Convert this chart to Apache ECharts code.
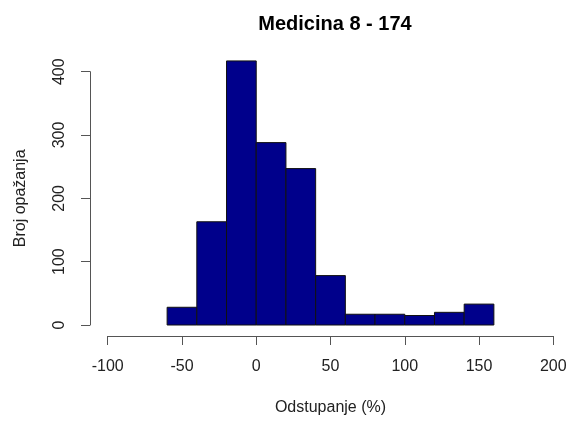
<!DOCTYPE html>
<html><head><meta charset="utf-8">
<script src="https://cdn.jsdelivr.net/npm/echarts@6/dist/echarts.min.js"></script>
<style>html,body{margin:0;padding:0;background:#fff}#c{width:576px;height:422px}</style>
</head><body><div id="c"></div>
<script>
const binStarts = [-60, -40, -20, 0, 20, 40, 60, 80, 100, 120, 140];
const binEnds   = [-40, -20, 0, 20, 40, 60, 80, 100, 120, 140, 160];
const counts    = [28, 163, 417, 288, 247, 78, 17, 17, 15, 20, 33];
const xTicks = [-100, -50, 0, 50, 100, 150, 200];
const yTicks = [0, 100, 200, 300, 400];

const data = binStarts.map((s, i) => [s, binEnds[i], counts[i]]);
const chart = echarts.init(document.getElementById('c'), null, {renderer: 'canvas'});
const font = '"Liberation Sans", Arial, sans-serif';
chart.setOption({
  animation: false,
  title: {text: 'Medicina 8 - 174', left: 330, top: 9, textAlign: 'center',
    textStyle: {fontFamily: font, fontWeight: 'bold', fontSize: 20, color: '#000'}},
  grid: {left: 107.7, right: 22.7, top: 71.7, bottom: 97, containLabel: false},
  xAxis: {type: 'value', min: xTicks[0], max: xTicks[xTicks.length - 1], interval: 50, offset: 11,
    name: 'Odstupanje (%)', nameLocation: 'middle', nameGap: 64,
    nameTextStyle: {fontFamily: font, fontSize: 16, color: '#222'},
    axisLine: {show: true, onZero: false, lineStyle: {color: '#555', width: 1}},
    axisTick: {show: true, length: 9, lineStyle: {color: '#555'}},
    axisLabel: {fontFamily: font, fontSize: 16, color: '#222', margin: 23},
    splitLine: {show: false}},
  yAxis: {type: 'value', min: yTicks[0], max: yTicks[yTicks.length - 1], interval: 100, offset: 17.7,
    name: 'Broj opažanja', nameLocation: 'middle', nameGap: 61, nameRotate: 90,
    nameTextStyle: {fontFamily: font, fontSize: 16, color: '#222'},
    axisLine: {show: true, onZero: false, lineStyle: {color: '#555', width: 1}},
    axisTick: {show: true, length: 9, lineStyle: {color: '#555'}},
    axisLabel: {fontFamily: font, fontSize: 16, color: '#222', margin: 22, rotate: 90},
    splitLine: {show: false}},
  series: [{
    type: 'custom',
    data: data,
    encode: {x: [0, 1], y: 2},
    renderItem: function (params, api) {
      const p0 = api.coord([api.value(0), api.value(2)]);
      const p1 = api.coord([api.value(1), 0]);
      return {type: 'rect',
        shape: {x: p0[0], y: p0[1], width: p1[0] - p0[0], height: p1[1] - p0[1]},
        style: {fill: '#00008B', stroke: '#111', lineWidth: 1}};
    }
  }]
});
</script></body></html>
